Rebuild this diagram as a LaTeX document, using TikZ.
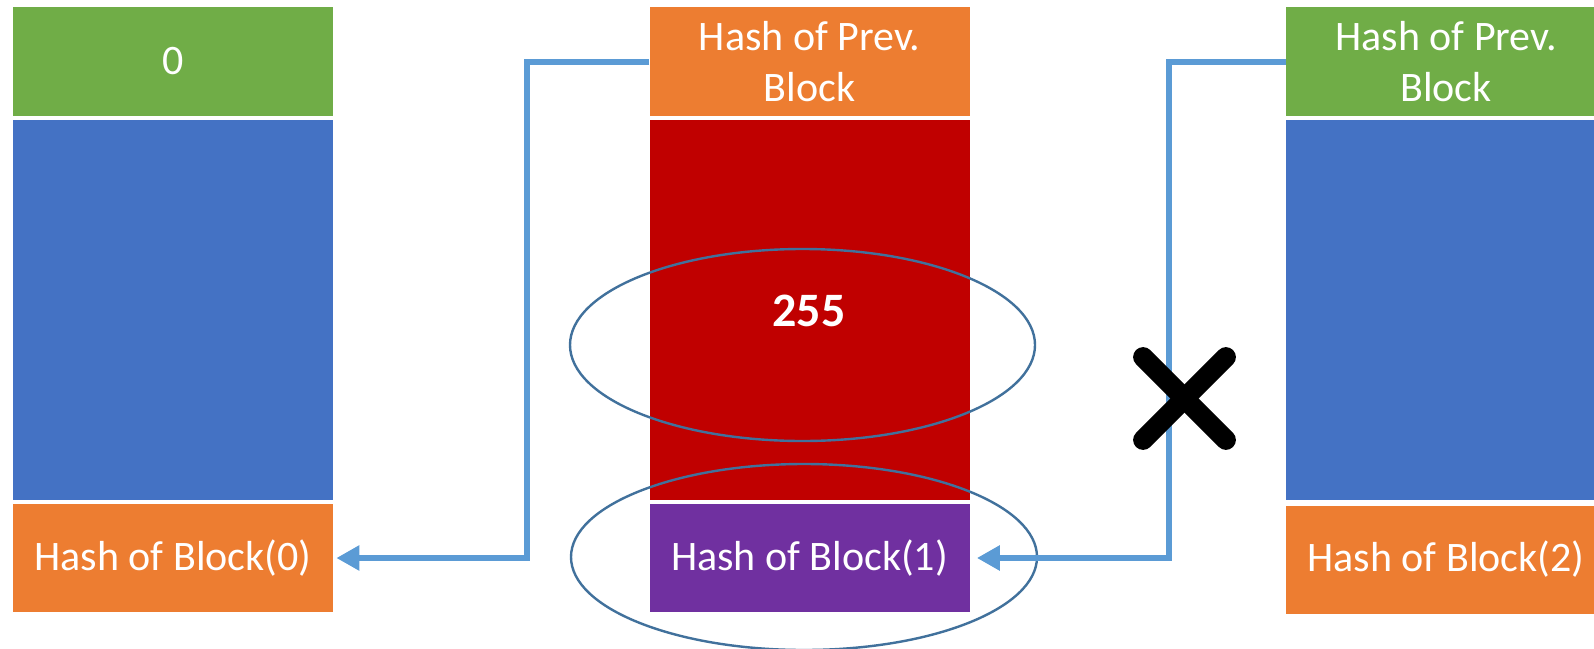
\documentclass[tikz,border=0pt]{standalone}
\usepackage{fontspec}
\setmainfont{Carlito}
\usepackage{xcolor}
\usetikzlibrary{shapes.geometric,arrows.meta}

\definecolor{blockgreen}{HTML}{70AD47}
\definecolor{blockblue}{HTML}{4472C4}
\definecolor{blockorange}{HTML}{ED7D31}
\definecolor{blockred}{HTML}{C00000}
\definecolor{blockpurple}{HTML}{7030A0}
\definecolor{linkblue}{HTML}{5B9BD5}
\definecolor{ringblue}{HTML}{41719C}

\begin{document}
\begin{tikzpicture}[x=0.5pt,y=-0.5pt]
        % Define styles
        \tikzset{
            cell/.style={rectangle, inner sep=0pt, minimum width=160pt, text=white,
                font=\fontsize{21}{25.5}\selectfont, align=center},
            header/.style={cell, minimum height=54.5pt},
            body/.style={cell, minimum height=190pt},
            hash/.style={cell, minimum height=54pt},
            ring/.style={ellipse, draw=ringblue, line width=1.2pt, inner sep=0pt},
            link/.style={draw=linkblue, line width=3pt,
                -{Triangle[length=11.5pt,width=12pt]}}
        }
        \clip (0,0) rectangle (1594,648);
        \fill[white] (0,0) rectangle (1594,648);

        % Block 0
        \node[header, fill=blockgreen] (top_node_0) at (173,61.5) {0};
        \node[body, fill=blockblue] (body_node_0) at (173,310) {};
        \node[hash, fill=blockorange] (hash_node_0) at (173,558) {Hash of Block(0)};

        % Block 1
        \node[header, fill=blockorange] (top_node_1) at (809.5,61.5) {Hash of Prev.\\Block};
        \node[body, fill=blockred] (body_node_1) at (809.5,310) {};
        \node[hash, fill=blockpurple] (hash_node_1) at (809.5,558) {Hash of Block(1)};
        \node[text=white, font=\fontsize{24}{28}\selectfont\bfseries] (nonce_node_1) at (809,311) {255};

        % Block 2
        \node[header, fill=blockgreen] (top_node_2) at (1446,61.5) {Hash of Prev.\\Block};
        \node[body, fill=blockblue] (body_node_2) at (1446,310) {};
        \node[hash, fill=blockorange] (hash_node_2) at (1446,559.5) {Hash of Block(2)};

        % Rings
        \node[ring, minimum width=232.5pt, minimum height=96pt] (ring_nonce) at (802.5,345) {};
        \node[ring, minimum width=233pt, minimum height=93pt] (ring_hash) at (804,557) {};

        % Arrows
        \draw[link, shorten >=1.5pt] (top_node_1.west) -- ++(-122,0) |- (hash_node_0.east);
        \draw[link, shorten >=3.5pt] (top_node_2.west) -- ++(-116.5,0) |- (hash_node_1.east);

        % Broken link
        \node[minimum size=41pt, inner sep=0pt] (cross_node) at (1184.5,398.5) {};
        \draw[line width=10pt, line cap=round] (cross_node.north west) -- (cross_node.south east);
        \draw[line width=10pt, line cap=round] (cross_node.north east) -- (cross_node.south west);
    \end{tikzpicture}
\end{document}
